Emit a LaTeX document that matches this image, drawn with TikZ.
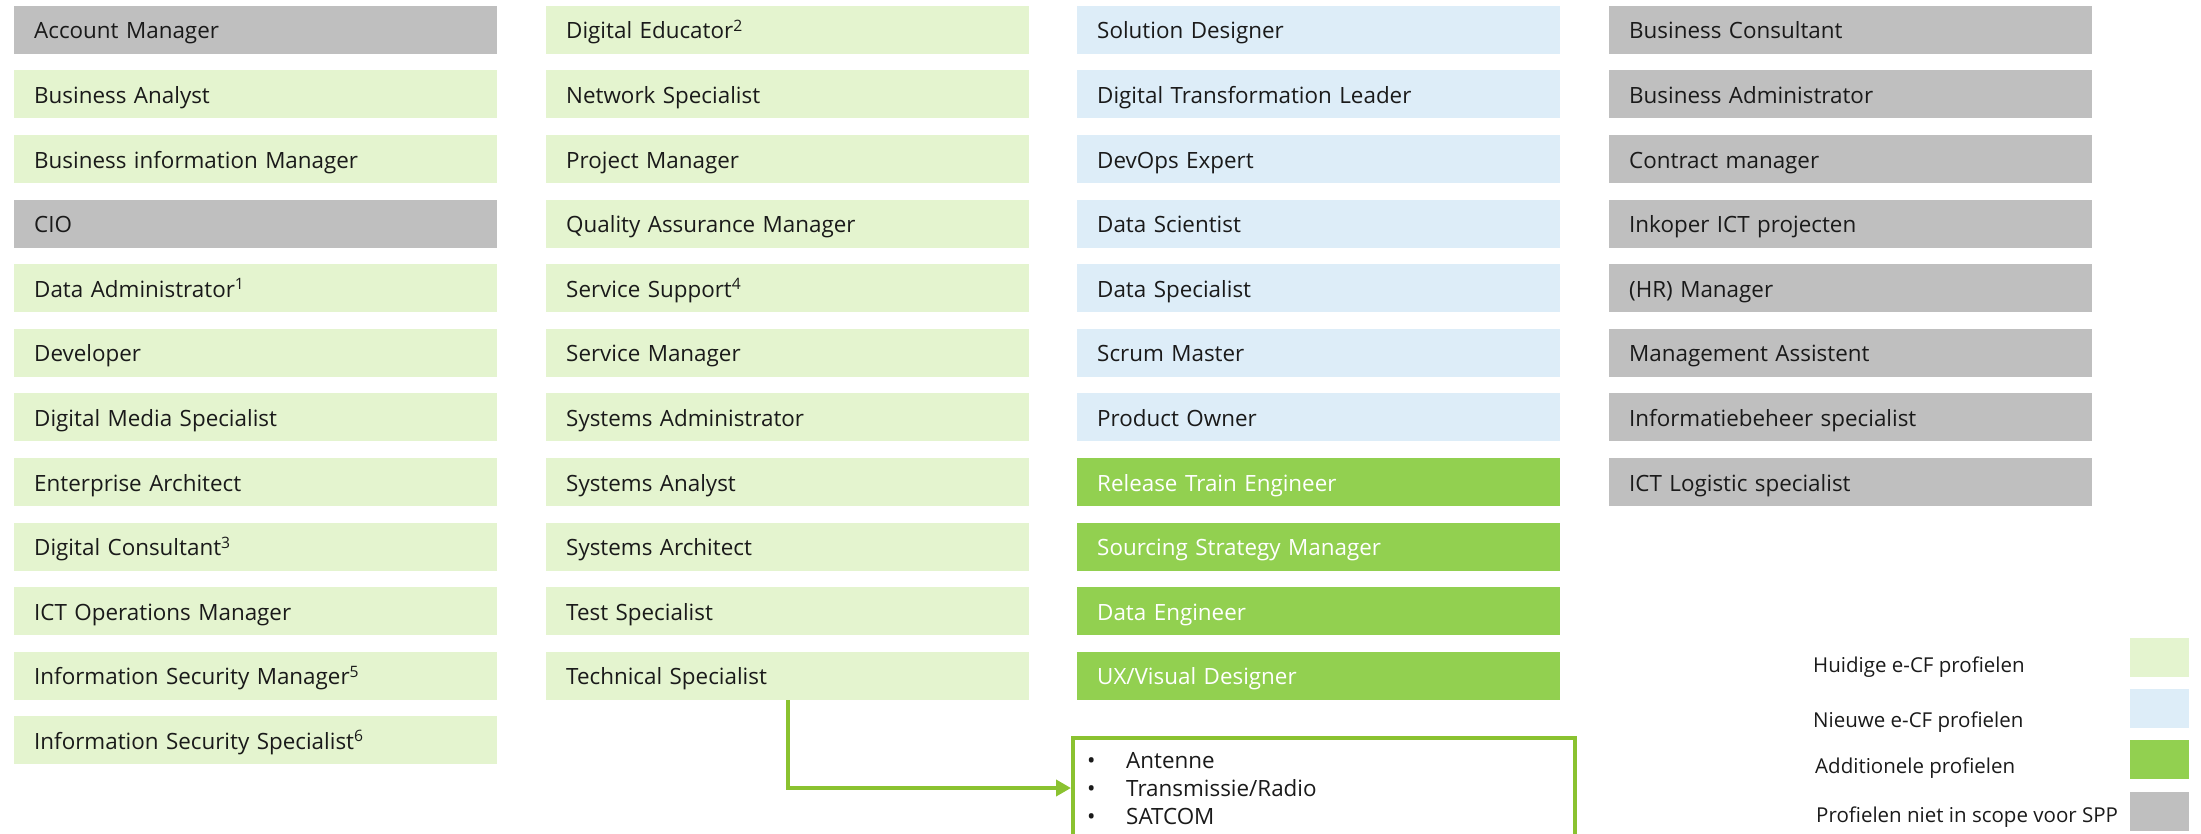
\documentclass[tikz,border=0pt]{standalone}
\usepackage{fontspec}
\setmainfont{Open Sans}
\usetikzlibrary{arrows.meta}
\definecolor{lgreen}{HTML}{E4F4CF}
\definecolor{lblue}{HTML}{DDEDF8}
\definecolor{dgreen}{HTML}{92D050}
\definecolor{lgrey}{HTML}{BFBFBF}
\definecolor{lnkgreen}{HTML}{8AC230}
\definecolor{txt}{HTML}{1A1A1A}
\begin{document}
\begin{tikzpicture}[x=1pt,y=-1pt,
  rolebox/.style={rectangle, anchor=north west, minimum width=483pt, minimum height=48pt,
    inner xsep=20pt, inner ysep=0pt, text width=443pt, align=left,
    text height=19pt, text depth=1pt, font=\fontsize{22.4}{26}\selectfont, text=txt},
  rcur/.style={rolebox, fill=lgreen},
  rnew/.style={rolebox, fill=lblue},
  radd/.style={rolebox, fill=dgreen, text=white},
  rout/.style={rolebox, fill=lgrey},
  legtext/.style={anchor=base west, inner sep=0pt, font=\fontsize{20.5}{24}\selectfont, text=txt},
  legbox/.style={rectangle, anchor=north west, minimum width=59pt, minimum height=39pt, inner sep=0pt},
  listbox/.style={rectangle, anchor=north west, draw=lnkgreen, line width=4pt, fill=white,
    minimum width=502pt, minimum height=100pt, inner sep=0pt},
  listitem/.style={anchor=base west, inner sep=0pt, font=\fontsize{22.4}{26}\selectfont, text=txt},
  link/.style={draw=lnkgreen, line width=4pt, -{Triangle[length=15pt,width=16pt]}}]
\useasboundingbox (0,0) rectangle (2201,833);
\clip (0,0) rectangle (2201,833);
% column 1
\node[rout] (a0) at (14,5.6) {Account Manager};
\node[rcur] (a1) at (14,70.2) {Business Analyst};
\node[rcur] (a2) at (14,134.8) {Business information Manager};
\node[rout] (a3) at (14,199.4) {CIO};
\node[rcur] (a4) at (14,264) {Data Administrator\textsuperscript{1}};
\node[rcur] (a5) at (14,328.6) {Developer};
\node[rcur] (a6) at (14,393.2) {Digital Media Specialist};
\node[rcur] (a7) at (14,457.8) {Enterprise Architect};
\node[rcur] (a8) at (14,522.4) {Digital Consultant\textsuperscript{3}};
\node[rcur] (a9) at (14,587) {ICT Operations Manager};
\node[rcur] (a10) at (14,651.6) {Information Security Manager\textsuperscript{5}};
\node[rcur] (a11) at (14,716.2) {Information Security Specialist\textsuperscript{6}};
% column 2
\node[rcur] (b0) at (546,5.6) {Digital Educator\textsuperscript{2}};
\node[rcur] (b1) at (546,70.2) {Network Specialist};
\node[rcur] (b2) at (546,134.8) {Project Manager};
\node[rcur] (b3) at (546,199.4) {Quality Assurance Manager};
\node[rcur] (b4) at (546,264) {Service Support\textsuperscript{4}};
\node[rcur] (b5) at (546,328.6) {Service Manager};
\node[rcur] (b6) at (546,393.2) {Systems Administrator};
\node[rcur] (b7) at (546,457.8) {Systems Analyst};
\node[rcur] (b8) at (546,522.4) {Systems Architect};
\node[rcur] (b9) at (546,587) {Test Specialist};
\node[rcur] (b10) at (546,651.6) {Technical Specialist};
% column 3
\node[rnew] (c0) at (1077,5.6) {Solution Designer};
\node[rnew] (c1) at (1077,70.2) {Digital Transformation Leader};
\node[rnew] (c2) at (1077,134.8) {DevOps Expert};
\node[rnew] (c3) at (1077,199.4) {Data Scientist};
\node[rnew] (c4) at (1077,264) {Data Specialist};
\node[rnew] (c5) at (1077,328.6) {Scrum Master};
\node[rnew] (c6) at (1077,393.2) {Product Owner};
\node[radd] (c7) at (1077,457.8) {Release Train Engineer};
\node[radd] (c8) at (1077,522.4) {Sourcing Strategy Manager};
\node[radd] (c9) at (1077,587) {Data Engineer};
\node[radd] (c10) at (1077,651.6) {UX/Visual Designer};
% column 4
\node[rout] (d0) at (1609,5.6) {Business Consultant};
\node[rout] (d1) at (1609,70.2) {Business Administrator};
\node[rout] (d2) at (1609,134.8) {Contract manager};
\node[rout] (d3) at (1609,199.4) {Inkoper ICT projecten};
\node[rout] (d4) at (1609,264) {(HR) Manager};
\node[rout] (d5) at (1609,328.6) {Management Assistent};
\node[rout] (d6) at (1609,393.2) {Informatiebeheer specialist};
\node[rout] (d7) at (1609,457.8) {ICT Logistic specialist};
% bottom list box
\node[listbox] (lst) at (1071,736) {};
\node[listitem] (i1) at (1087,768) {\makebox[39pt][l]{•}Antenne};
\node[listitem] (i2) at (1087,796) {\makebox[39pt][l]{•}Transmissie/Radio};
\node[listitem] (i3) at (1087,824) {\makebox[39pt][l]{•}SATCOM};
\draw[link] (b10.south) |- (lst.west);
% legend
\node[legtext] (l1) at (1813,672) {Huidige e-CF profielen};
\node[legtext] (l2) at (1813,727) {Nieuwe e-CF profielen};
\node[legtext] (l3) at (1815,773) {Additionele profielen};
\node[legtext] (l4) at (1816,822) {Profielen niet in scope voor SPP};
\node[legbox, fill=lgreen] (k1) at (2130,638) {};
\node[legbox, fill=lblue] (k2) at (2130,689) {};
\node[legbox, fill=dgreen] (k3) at (2130,740) {};
\node[legbox, fill=lgrey] (k4) at (2130,792) {};
\end{tikzpicture}
\end{document}
